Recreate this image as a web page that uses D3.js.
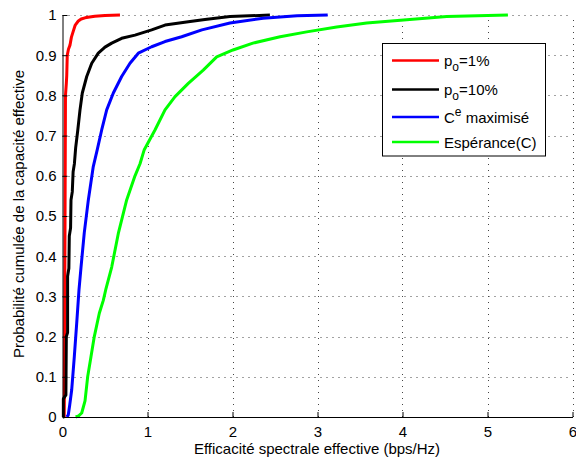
<!DOCTYPE html>
<html><head><meta charset="utf-8">
<script src="https://cdn.jsdelivr.net/npm/d3@7"></script>
<style>body{margin:0;background:#fff}svg{display:block}text{font-family:"Liberation Sans",Arial,sans-serif;}</style>
</head><body>
<svg id="c" width="576" height="460"></svg>
<script>
const xTicks = [0,1,2,3,4,5,6];
const yTicks = [0,0.1,0.2,0.3,0.4,0.5,0.6,0.7,0.8,0.9,1];
const yTickLabels = ["0","0.1","0.2","0.3","0.4","0.5","0.6","0.7","0.8","0.9","1"];
const seriesNames = ["p_o=1%","p_o=10%","C^e maximisé","Espérance(C)"];
const seriesColors = ["#ff0000","#000000","#0000ff","#00ff00"];

const redX = [0.02,0.022,0.03,0.035,0.045,0.05,0.056,0.07,0.088,0.105,0.127,0.15,0.186,0.22,0.265,0.32,0.38,0.5,0.676];
const redY = [0,0.05,0.5,0.8,0.83,0.85,0.9,0.915,0.925,0.945,0.96,0.975,0.985,0.99,0.993,0.995,0.997,0.999,1];

const blackX = [0.005,0.01,0.01,0.04,0.045,0.06,0.06,0.075,0.08,0.095,0.1,0.115,0.125,0.14,0.155,0.18,0.206,0.233,0.285,0.344,0.421,0.5,0.579,0.696,0.853,1.049,1.206,1.48,1.676,1.97,2.2,2.44];
const blackY = [0,0,0.045,0.055,0.2,0.21,0.35,0.37,0.45,0.47,0.54,0.56,0.61,0.63,0.67,0.714,0.764,0.806,0.847,0.88,0.905,0.92,0.93,0.942,0.95,0.963,0.975,0.983,0.989,0.996,0.998,1];

const blueX = [0.05,0.068,0.085,0.108,0.139,0.167,0.194,0.218,0.256,0.304,0.362,0.409,0.461,0.52,0.598,0.696,0.794,0.892,1.049,1.206,1.402,1.64,1.97,2.36,2.76,3.12];
const blueY = [0,0.005,0.03,0.067,0.15,0.233,0.316,0.373,0.458,0.54,0.623,0.665,0.714,0.764,0.806,0.847,0.88,0.905,0.921,0.934,0.946,0.963,0.98,0.992,0.998,1];

const greenX = [0.155,0.19,0.226,0.265,0.296,0.335,0.374,0.433,0.48,0.508,0.579,0.656,0.755,0.853,0.912,0.962,1.088,1.206,1.324,1.48,1.656,1.814,2.006,2.24,2.56,2.873,3.226,3.579,4.05,4.52,5.24];
const greenY = [0,0.003,0.01,0.04,0.1,0.15,0.2,0.258,0.29,0.316,0.373,0.456,0.54,0.6,0.63,0.665,0.714,0.764,0.797,0.83,0.863,0.896,0.913,0.93,0.946,0.958,0.97,0.98,0.988,0.996,1];

const series = [[redX,redY],[blackX,blackY],[blueX,blueY],[greenX,greenY]];

const svg = d3.select("#c");
const x = d3.scaleLinear().domain([0,6]).range([62.5,572.5]);
const y = d3.scaleLinear().domain([0,1]).range([417,15]);

// grid
const grid = svg.append("g").attr("stroke","#444").attr("stroke-width",1).attr("stroke-dasharray","1,5");
grid.selectAll("line.v").data(xTicks.slice(1)).join("line")
  .attr("x1",d=>Math.round(x(d))+0.5).attr("x2",d=>Math.round(x(d))+0.5).attr("y1",y(0)).attr("y2",y(1));
grid.selectAll("line.h").data(yTicks.slice(1)).join("line")
  .attr("y1",d=>Math.round(y(d))+0.5).attr("y2",d=>Math.round(y(d))+0.5).attr("x1",x(0)).attr("x2",x(6));

// curves
const line = d3.line().x(d=>x(d[0])).y(d=>y(d[1]));
series.forEach((s,i)=>{
  const pts = s[0].map((v,j)=>[v,s[1][j]]);
  svg.append("path").attr("d",line(pts)).attr("fill","none")
    .attr("stroke",seriesColors[i]).attr("stroke-width",3).attr("stroke-linejoin","round");
});

// axes
const xAxis = d3.axisBottom(x).tickValues(xTicks).tickFormat(d3.format("d")).tickSizeInner(-5).tickSizeOuter(0).tickPadding(9);
const gx = svg.append("g").attr("transform",`translate(0,${y(0)})`).call(xAxis);
const yAxis = d3.axisLeft(y).tickValues(yTicks).tickFormat((d,i)=>yTickLabels[i]).tickSizeInner(-5).tickSizeOuter(0).tickPadding(6);
const gy = svg.append("g").attr("transform",`translate(${x(0)},0)`).call(yAxis);
[gx,gy].forEach(g=>{
  g.selectAll("text").attr("font-size",15).attr("fill","#000").attr("font-family",'"Liberation Sans",Arial,sans-serif');
  g.select(".domain").attr("stroke","#000");
  g.selectAll(".tick line").attr("stroke","#000");
});

svg.append("text").attr("x",317).attr("y",454).attr("text-anchor","middle").attr("font-size",15)
  .text("Efficacité spectrale effective (bps/Hz)");
svg.append("text").attr("transform","translate(24,214) rotate(-90)").attr("text-anchor","middle").attr("font-size",15)
  .text("Probabilité cumulée de la capacité effective");

// legend
const lg = svg.append("g");
lg.append("rect").attr("x",382.5).attr("y",43.5).attr("width",163).attr("height",112.5).attr("fill","#fff").attr("stroke","#000").attr("stroke-width",1);
const ly = [60.5,89.5,117,142];
seriesNames.forEach((n,i)=>{
  lg.append("line").attr("x1",392).attr("x2",439).attr("y1",ly[i]).attr("y2",ly[i]).attr("stroke",seriesColors[i]).attr("stroke-width",2.5);
  const t = lg.append("text").attr("x",444).attr("y",ly[i]+5.5).attr("font-size",15);
  if (n.includes("_")) {
    const [a,rest] = n.split("_");
    t.append("tspan").text(a);
    t.append("tspan").attr("dy",5).attr("font-size",12).text(rest[0]);
    t.append("tspan").attr("dy",-5).text(rest.slice(1));
  } else if (n.includes("^")) {
    const [a,rest] = n.split("^");
    const sp = rest.indexOf(" ");
    t.append("tspan").text(a);
    t.append("tspan").attr("dy",-7).attr("font-size",12).text(rest.slice(0,sp));
    t.append("tspan").attr("dy",7).text(rest.slice(sp));
  } else t.text(n);
});
</script>
</body></html>
